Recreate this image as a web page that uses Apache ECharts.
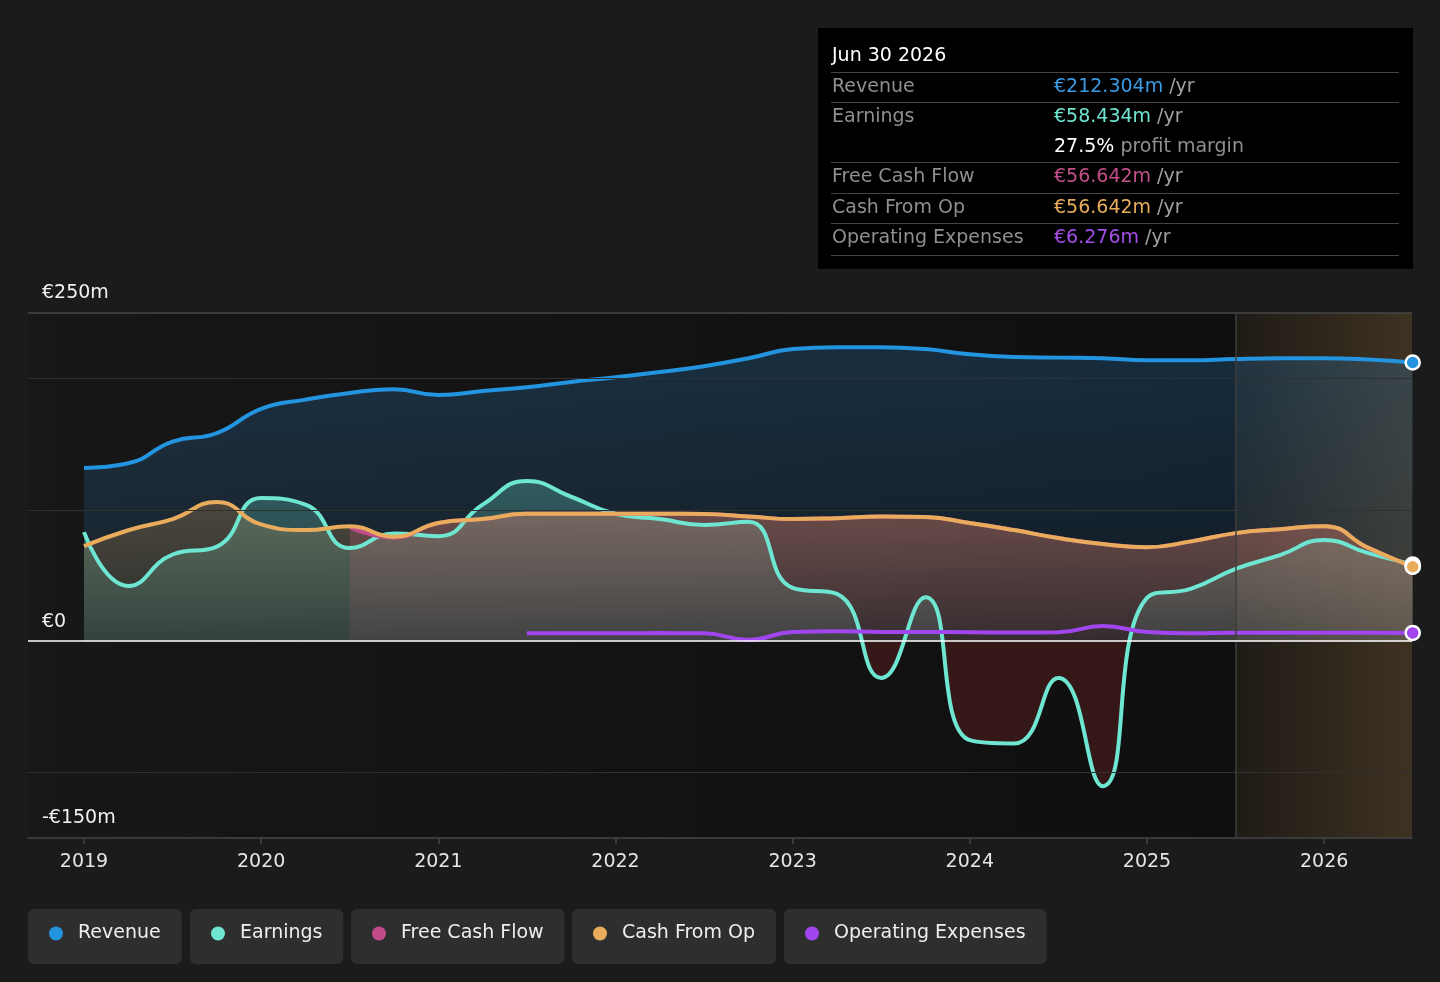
<!DOCTYPE html>
<html>
<head>
<meta charset="utf-8">
<script src="https://cdn.jsdelivr.net/npm/echarts@6/dist/echarts.min.js"></script>
<style>
html,body{margin:0;padding:0;background:#1b1b1b;}
#chart{width:1440px;height:982px;}
</style>
</head>
<body>
<div id="chart"></div>
<script>
// ---- data (decimal years, values in € millions) ----
const periods = [2019.0,2019.25,2019.5,2019.75,2020.0,2020.25,2020.5,2020.75,2021.0,2021.25,2021.5,2021.75,2022.0,2022.25,2022.5,2022.75,2023.0,2023.25,2023.5,2023.75,2024.0,2024.25,2024.5,2024.75,2025.0,2025.25,2025.5,2025.75,2026.0,2026.25,2026.5];
const revenue = [132,135.5,152,158.5,177,184,189,192,187.5,190.5,193.5,197.5,201,205,209.5,215.5,222.5,224,224,222.5,218.5,216.5,216,215.5,214,214,215,215.5,215.5,214.5,212.304];
const earnings = [83,42,66,72,109,104,71,82,80,104,122,110,97,93,88.5,91,40.5,36,-28,33.5,-75.5,-78,-28,-110.5,33,40,55,65.5,77,67,58.434];
const freeCashFlow = [null,null,null,null,null,null,86.8,78.8,90,93,97,97,97,97,96.8,95,93,93.7,95,94.5,90,84.6,78.5,74,71.6,76,82.3,85.3,87.6,71,56.642];
const cashFromOp = [72.4,84.5,93,106,89,84.6,87.5,79.5,90,93,97,97,97,97,96.8,95,93,93.7,95,94.5,90,84.6,78.5,74,71.6,76,82.3,85.3,87.6,71,56.642];
const operatingExpenses = [null,null,null,null,null,null,null,null,null,null,6.0,6.0,6.0,6.1,6.0,1.0,7.0,7.5,7.0,7.0,6.8,6.6,6.8,11.5,7.0,6.0,6.3,6.3,6.3,6.3,6.276];
const yearTicks = [2019,2020,2021,2022,2023,2024,2025,2026];
const yTickLabels = [-150,0,250];
const gridValues = [200,100,-100];
const xMin = 2018.684, xMax = 2026.496, forecastStart = 2025.5;
const tooltipDate = 'Jun 30 2026';

const FONT = 'DejaVu Sans';
const FS = 19;
const C = {rev:'#2394df', earn:'#6ee6d2', fcf:'#c24a8a', cfo:'#e9ac5c', opex:'#a146ef'};

function pairs(arr){ return periods.map((p,i)=>[p,arr[i]]); }
function withEnd(arr,color){
  const d = pairs(arr);
  const last = d.length-1;
  d[last] = {value:d[last], symbol:'circle', symbolSize:14,
    itemStyle:{color:color,borderColor:'#fff',borderWidth:2.5}};
  return d;
}
function vgrad(rgb,a1,a2){
  return new echarts.graphic.LinearGradient(0,0,0,1,[
    {offset:0,color:'rgba('+rgb+','+a1+')'},{offset:1,color:'rgba('+rgb+','+a2+')'}]);
}
const last = a => a[a.length-1];
const fmt = v => '€'+v.toFixed(3)+'m';

const f = (forecastStart-xMin)/(xMax-xMin);

const chart = echarts.init(document.getElementById('chart'));

function baseSeries(name,arr,color,extra){
  return Object.assign({
    name:name, type:'line', data:withEnd(arr,color), smooth:0.5,
    symbol:'none', showSymbol:true, clip:false, connectNulls:false,
    lineStyle:{color:color,width:4}, itemStyle:{color:color},
    emphasis:{disabled:true}, silent:true
  },extra||{});
}

const legendNames = ['Revenue','Earnings','Free Cash Flow','Cash From Op','Operating Expenses'];
const legendLefts = [28,190,351,572,784];
const legends = legendNames.map((n,i)=>({
  data:[n], left:legendLefts[i], top:909, orient:'horizontal',
  backgroundColor:'#2e2e2e', borderRadius:6, padding:[15,21,21,21],
  itemWidth:14, itemHeight:14, icon:'circle', selectedMode:false,
  textStyle:{color:'#eeeeee',fontSize:FS,fontFamily:FONT,padding:[0,0,0,10]}
}));

// tooltip panel
const rows = [
  {label:'Revenue', y:87, v:fmt(last(revenue)), c:'#3a9be5'},
  {label:'Earnings', y:117, v:fmt(last(earnings)), c:'#6ee6d2'},
  {label:'Free Cash Flow', y:177, v:fmt(last(freeCashFlow)), c:'#c2508a'},
  {label:'Cash From Op', y:208, v:fmt(last(cashFromOp)), c:'#e9ac5c'},
  {label:'Operating Expenses', y:238, v:fmt(last(operatingExpenses)), c:'#a54ee8'}
];
const font = FS+'px "'+FONT+'"';
const margin = (last(earnings)/last(revenue)*100).toFixed(1)+'%';
const g = [{type:'rect', shape:{x:818,y:28,width:595,height:241}, style:{fill:'#000'}}];
g.push({type:'text', x:832, y:56, style:{text:tooltipDate, fill:'#fff', font:font, verticalAlign:'middle'}});
[72,102,162,193,223,255].forEach(y=>g.push({type:'line', shape:{x1:831,y1:y+0.5,x2:1399,y2:y+0.5}, style:{stroke:'#444',lineWidth:1.2}}));
rows.forEach(r=>{
  g.push({type:'text', x:832, y:r.y, style:{text:r.label, fill:'#8f8f8f', font:font, verticalAlign:'middle'}});
  g.push({type:'text', x:1054, y:r.y, style:{text:'{v|'+r.v+'} {u|/yr}', verticalAlign:'middle', font:font,
    rich:{v:{fill:r.c, font:font}, u:{fill:'#a0a0a0', font:font}}}});
});
g.push({type:'text', x:1054, y:147, style:{text:'{v|'+margin+'} {u|profit margin}', verticalAlign:'middle', font:font,
  rich:{v:{fill:'#fff', font:font}, u:{fill:'#8f8f8f', font:font}}}});

const option = {
  backgroundColor:'#1b1b1b',
  animation:false,
  textStyle:{fontFamily:FONT},
  grid:{left:28,right:28,top:313,bottom:144,show:true,borderWidth:0,
    backgroundColor:new echarts.graphic.LinearGradient(0,0,1,0,[
      {offset:0,color:'#171717'},{offset:f,color:'#0f0f0f'},
      {offset:f,color:'#1f1b16'},{offset:1,color:'#3e3222'}])},
  legend:legends,
  graphic:g,
  xAxis:{type:'value', min:xMin, max:xMax,
    axisLine:{show:true,onZero:false,lineStyle:{color:'#464646',width:1.5}},
    axisTick:{show:true,customValues:yearTicks,length:6,lineStyle:{color:'#464646',width:1.5}},
    axisLabel:{customValues:yearTicks,color:'#e6e6e6',fontSize:FS,fontFamily:FONT,margin:15,formatter:v=>String(v)},
    splitLine:{show:false}},
  yAxis:{type:'value', min:-150, max:250, interval:50,
    axisLine:{show:false}, axisTick:{show:false}, splitLine:{show:false},
    axisLabel:{inside:true, margin:14, color:'#f0f0f0', fontSize:FS, fontFamily:FONT,
      verticalAlign:'bottom', padding:[0,0,10,0],
      formatter:v=> yTickLabels.indexOf(v)<0 ? '' : (v<0?'-€'+(-v)+'m':(v===0?'€0':'€'+v+'m'))}},
  series:[
    baseSeries('Revenue',revenue,C.rev,{
      areaStyle:{color:vgrad('45,143,221',0.32,0.12)},
      markLine:{silent:true,symbol:'none',label:{show:false},animation:false,
        data:[
          ...gridValues.map(v=>({yAxis:v,lineStyle:{color:'#303030',width:1,type:'solid'}})),
          {yAxis:250,lineStyle:{color:'#474747',width:1.5,type:'solid'}},
          {xAxis:forecastStart,lineStyle:{color:'#3e3e3e',width:1.5,type:'solid'}}
        ]}
    }),
    baseSeries('Earnings',earnings,C.earn,{areaStyle:{color:'rgba(110,224,204,0.25)'}}),
    baseSeries('Free Cash Flow',freeCashFlow,C.fcf,{areaStyle:{color:vgrad('200,80,130',0.36,0.14)}}),
    baseSeries('Cash From Op',cashFromOp,C.cfo,{areaStyle:{color:vgrad('232,168,86',0.34,0.12)}}),
    baseSeries('Operating Expenses',operatingExpenses,C.opex,{
      markLine:{silent:true,symbol:'none',label:{show:false},animation:false,
        data:[{yAxis:0,lineStyle:{color:'#ffffff',width:1.5,type:'solid'}}]}
    })
  ]
};
chart.setOption(option);

// earnings fill: teal above zero, dark red below zero (global gradient from axis pixels)
const eMax = Math.max(...earnings), eMin = Math.min(...earnings);
const yTop = chart.convertToPixel({yAxisIndex:0}, eMax);
const yBot = chart.convertToPixel({yAxisIndex:0}, eMin);
const y0 = chart.convertToPixel({yAxisIndex:0}, 0);
const z = (y0-yTop)/(yBot-yTop);
chart.setOption({series:[{},{areaStyle:{color:new echarts.graphic.LinearGradient(0,yTop,0,yBot,[
  {offset:0,color:'rgba(110,224,204,0.40)'},
  {offset:z,color:'rgba(110,224,204,0.18)'},
  {offset:z,color:'rgba(190,50,54,0.31)'},
  {offset:1,color:'rgba(190,50,54,0.31)'}],true)}}]});
</script>
</body>
</html>
